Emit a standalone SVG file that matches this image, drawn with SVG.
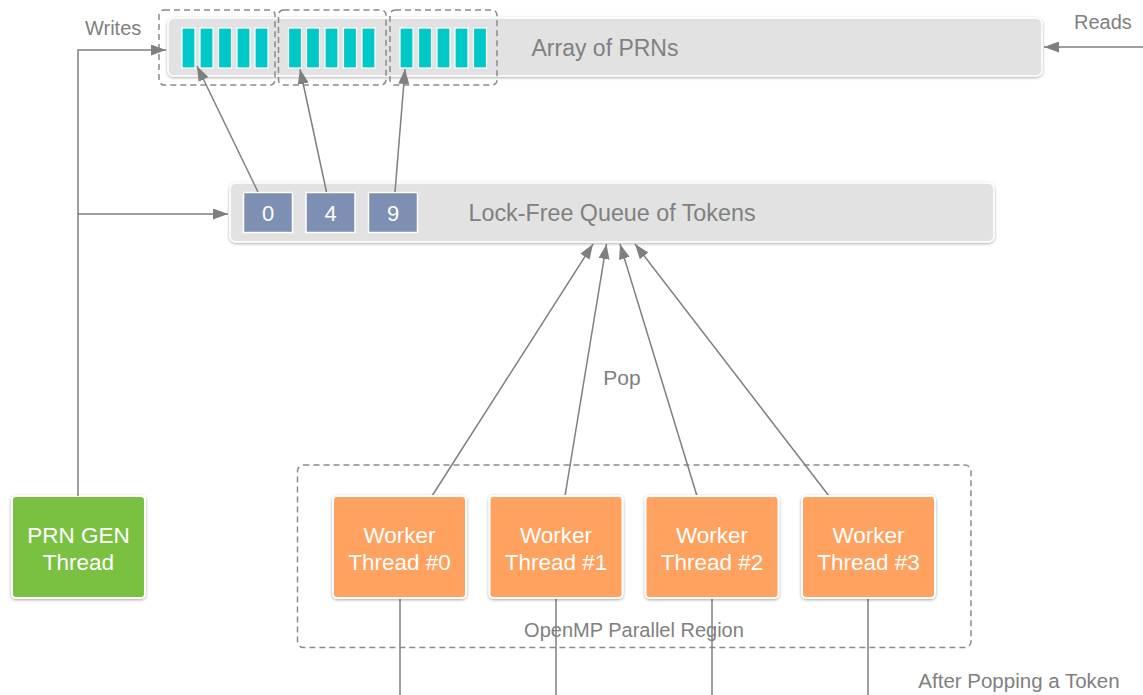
<svg xmlns="http://www.w3.org/2000/svg" width="1143" height="695" viewBox="0 0 1143 695">
  <defs>
    <style>
      .lbl { font-family: "Helvetica Neue", "Liberation Sans", Arial, sans-serif; fill: #808080; }
      .wtxt { font-family: "Helvetica Neue", "Liberation Sans", Arial, sans-serif; fill: #ffffff; text-anchor: middle; }
      .conn { stroke: #7f7f7f; stroke-width: 1.5; fill: none; }
      .dash { stroke: #8a8a8a; stroke-width: 1.5; stroke-dasharray: 6 4; fill: none; }
      .panel { fill: #e2e2e2; stroke: #ffffff; stroke-width: 1.5; filter: url(#shadow); }
      .cell { fill: #00c8c8; stroke: #ffffff; stroke-width: 1.2; }
      .token { fill: #7d8fb3; stroke: #ffffff; stroke-width: 1.5; }
      .worker { fill: #ffa25e; stroke: #ffffff; stroke-width: 2; filter: url(#shadow); }
      .gen { fill: #7ac143; stroke: #ffffff; stroke-width: 2; filter: url(#shadow); }
    </style>
    <filter id="shadow" x="-10%" y="-10%" width="120%" height="130%">
      <feGaussianBlur in="SourceAlpha" stdDeviation="1.5"/>
      <feOffset dx="0" dy="1" result="b"/>
      <feComponentTransfer><feFuncA type="linear" slope="0.35"/></feComponentTransfer>
      <feMerge><feMergeNode/><feMergeNode in="SourceGraphic"/></feMerge>
    </filter>
    <marker id="arrowL" viewBox="0 0 15 11" refX="15" refY="5.5" markerWidth="15" markerHeight="11" markerUnits="userSpaceOnUse" orient="auto">
      <path d="M0,0 L15,5.5 L0,11 z" fill="#7f7f7f"/>
    </marker>
  </defs>

  <rect width="1143" height="695" fill="#ffffff"/>

  <!-- PRN array -->
  <g id="prn-array">
    <rect class="panel" x="168" y="18" width="874" height="58" rx="6"/>
    <g>
      <rect class="cell" x="182" y="28" width="13" height="40"/>
      <rect class="cell" x="200" y="28" width="13" height="40"/>
      <rect class="cell" x="218.5" y="28" width="13" height="40"/>
      <rect class="cell" x="237" y="28" width="13" height="40"/>
      <rect class="cell" x="255" y="28" width="13" height="40"/>

      <rect class="cell" x="288.5" y="28" width="13" height="40"/>
      <rect class="cell" x="306.5" y="28" width="13" height="40"/>
      <rect class="cell" x="325" y="28" width="13" height="40"/>
      <rect class="cell" x="343.5" y="28" width="13" height="40"/>
      <rect class="cell" x="362" y="28" width="13" height="40"/>

      <rect class="cell" x="400" y="28" width="13" height="40"/>
      <rect class="cell" x="418.5" y="28" width="13" height="40"/>
      <rect class="cell" x="437" y="28" width="13" height="40"/>
      <rect class="cell" x="455" y="28" width="13" height="40"/>
      <rect class="cell" x="473.5" y="28" width="13" height="40"/>
    </g>
    <rect class="dash" x="159" y="10" width="116" height="75" rx="5"/>
    <rect class="dash" x="278.5" y="10" width="107.5" height="75" rx="5"/>
    <rect class="dash" x="390" y="10" width="107" height="75" rx="5"/>
    <text class="lbl" x="605" y="56" font-size="23" text-anchor="middle">Array of PRNs</text>
  </g>

  <!-- Token queue -->
  <g id="token-queue">
    <rect class="panel" x="230" y="183" width="764" height="59" rx="6"/>
    <rect class="token" x="243.5" y="192.5" width="49" height="40"/>
    <rect class="token" x="306" y="192.5" width="49" height="40"/>
    <rect class="token" x="368.5" y="192.5" width="49" height="40"/>
    <text class="wtxt" x="268" y="221" font-size="22">0</text>
    <text class="wtxt" x="330.5" y="221" font-size="22">4</text>
    <text class="wtxt" x="393" y="221" font-size="22">9</text>
    <text class="lbl" x="612" y="221" font-size="23.3" text-anchor="middle">Lock-Free Queue of Tokens</text>
  </g>

  <!-- Generator thread -->
  <g id="prn-gen">
    <rect class="gen" x="12" y="496" width="133" height="102" rx="4"/>
    <text class="wtxt" x="78.5" y="543" font-size="22.5">PRN GEN</text>
    <text class="wtxt" x="78.5" y="570" font-size="22.5">Thread</text>
  </g>

  <!-- Parallel region -->
  <g id="parallel-region">
    <rect class="dash" x="297.5" y="465" width="673.5" height="182.5" rx="6"/>
    <text class="lbl" x="634" y="637" font-size="20" text-anchor="middle">OpenMP Parallel Region</text>
  </g>

  <!-- Connectors -->
  <g id="connectors">
    <!-- writes path from the generator -->
    <polyline class="conn" points="78,496 78,50 166,50" marker-end="url(#arrowL)"/>
    <line class="conn" x1="78" y1="214" x2="228" y2="214" marker-end="url(#arrowL)"/>
    <!-- reads -->
    <line class="conn" x1="1143" y1="47" x2="1044" y2="47" marker-end="url(#arrowL)"/>
    <!-- tokens point into the array -->
    <line class="conn" x1="258" y1="192" x2="197" y2="66" marker-end="url(#arrowL)"/>
    <line class="conn" x1="326.5" y1="192" x2="300" y2="69" marker-end="url(#arrowL)"/>
    <line class="conn" x1="395" y1="192" x2="405" y2="69" marker-end="url(#arrowL)"/>
    <!-- workers pop tokens -->
    <line class="conn" x1="432" y1="496" x2="593" y2="244" marker-end="url(#arrowL)"/>
    <line class="conn" x1="565" y1="496" x2="606.5" y2="244" marker-end="url(#arrowL)"/>
    <line class="conn" x1="697" y1="496" x2="620" y2="244" marker-end="url(#arrowL)"/>
    <line class="conn" x1="829" y1="496" x2="635" y2="244" marker-end="url(#arrowL)"/>
    <!-- lines leaving the workers -->
    <line class="conn" x1="400" y1="598" x2="400" y2="695"/>
    <line class="conn" x1="556" y1="598" x2="556" y2="695"/>
    <line class="conn" x1="712" y1="598" x2="712" y2="695"/>
    <line class="conn" x1="868" y1="598" x2="868" y2="695"/>
  </g>

  <!-- Worker threads -->
  <g id="worker-0">
    <rect class="worker" x="333" y="496" width="133" height="102" rx="4"/>
    <text class="wtxt" x="399.5" y="543" font-size="22.5">Worker</text>
    <text class="wtxt" x="399.5" y="570" font-size="22.5">Thread #0</text>
  </g>
  <g id="worker-1">
    <rect class="worker" x="489.5" y="496" width="133" height="102" rx="4"/>
    <text class="wtxt" x="556" y="543" font-size="22.5">Worker</text>
    <text class="wtxt" x="556" y="570" font-size="22.5">Thread #1</text>
  </g>
  <g id="worker-2">
    <rect class="worker" x="645.5" y="496" width="133" height="102" rx="4"/>
    <text class="wtxt" x="712" y="543" font-size="22.5">Worker</text>
    <text class="wtxt" x="712" y="570" font-size="22.5">Thread #2</text>
  </g>
  <g id="worker-3">
    <rect class="worker" x="802" y="496" width="133" height="102" rx="4"/>
    <text class="wtxt" x="868.5" y="543" font-size="22.5">Worker</text>
    <text class="wtxt" x="868.5" y="570" font-size="22.5">Thread #3</text>
  </g>

  <!-- Free labels -->
  <g id="labels">
    <text class="lbl" x="85" y="35" font-size="20">Writes</text>
    <text class="lbl" x="1074" y="29" font-size="20">Reads</text>
    <text class="lbl" x="622" y="385" font-size="21" text-anchor="middle">Pop</text>
    <text class="lbl" x="1019" y="688" font-size="20.5" text-anchor="middle">After Popping a Token</text>
  </g>
</svg>
